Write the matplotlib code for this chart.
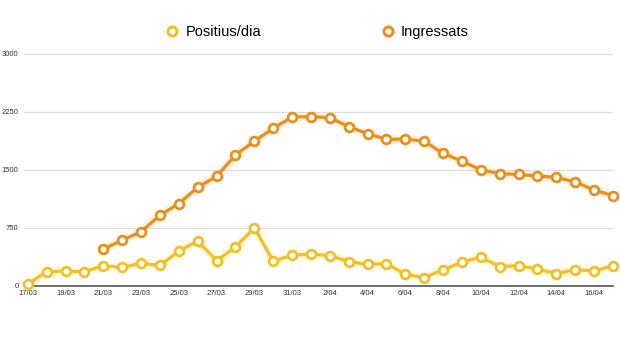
import matplotlib
matplotlib.use("Agg")
import matplotlib.pyplot as plt
from matplotlib.lines import Line2D

dates = ["17/03", "18/03", "19/03", "20/03", "21/03", "22/03", "23/03", "24/03",
         "25/03", "26/03", "27/03", "28/03", "29/03", "30/03", "31/03", "1/04",
         "2/04", "3/04", "4/04", "5/04", "6/04", "7/04", "8/04", "9/04",
         "10/04", "11/04", "12/04", "13/04", "14/04", "15/04", "16/04", "17/04"]

positius = [25, 185, 194, 185, 263, 241, 293, 267, 448, 582, 328, 504, 754, 323,
            397, 414, 392, 315, 280, 289, 151, 108, 211, 306, 375, 250, 263, 220,
            160, 211, 194, 263]

# Ingressats starts on 21/03
ingressats_start = 4
ingressats = [478, 590, 703, 914, 1065, 1276, 1418, 1694, 1871, 2039, 2185, 2190,
              2177, 2060, 1970, 1896, 1901, 1871, 1716, 1612, 1504, 1452, 1444,
              1422, 1405, 1345, 1241, 1168]

yticks = [0, 750, 1500, 2250, 3000]

c_pos = "#F3C023"
c_ing = "#E8901C"

plt.rcParams['font.family'] = ['Liberation Sans', 'DejaVu Sans']
fig = plt.figure(figsize=(6.2, 3.41), dpi=100)
ax = fig.add_axes([24/620, 1-286/341, (613-24)/620, (286-54)/341])

x_pos = list(range(len(positius)))
x_ing = list(range(ingressats_start, ingressats_start + len(ingressats)))

for xs, ys, c in [(x_pos, positius, c_pos), (x_ing, ingressats, c_ing)]:
    ax.plot(xs, ys, color=c, lw=6, alpha=0.12, solid_capstyle='round', zorder=2)
    ax.plot(xs, ys, color=c, lw=2.3, marker='o', markersize=6.3,
            markerfacecolor='white', markeredgecolor=c, markeredgewidth=2,
            zorder=3, clip_on=False)

ax.set_xlim(-0.2, len(dates) - 1)
ax.set_ylim(0, 3000)
ax.set_yticks(yticks)
ax.set_yticklabels([str(v) for v in yticks])
ax.set_xticks(list(range(0, len(dates), 2)))
ax.set_xticklabels(dates[::2])
ax.tick_params(axis='both', length=0, labelsize=5.5, labelcolor='#333333')
ax.tick_params(axis='y', pad=4)
ax.tick_params(axis='x', pad=3)
for lbl in ax.get_yticklabels():
    lbl.set_horizontalalignment('right')

ax.grid(axis='y', color='#dddddd', lw=0.9)
ax.set_axisbelow(True)
for s in ['top', 'right', 'left']:
    ax.spines[s].set_visible(False)
ax.spines['bottom'].set_color('#555555')
ax.spines['bottom'].set_linewidth(1.2)
ax.spines['bottom'].set_zorder(1)

handles = [Line2D([], [], color=c_pos, lw=0, marker='o', markersize=6.5,
                  markerfacecolor='white', markeredgecolor=c_pos, markeredgewidth=2.2),
           Line2D([], [], color=c_ing, lw=0, marker='o', markersize=6.5,
                  markerfacecolor='white', markeredgecolor=c_ing, markeredgewidth=2.2)]
fig.legend(handles, ["Positius/dia", "Ingressats"], loc='center',
           bbox_to_anchor=(317/620, 1-32/341), ncol=2, frameon=False,
           fontsize=10.5, handlelength=1.0, handletextpad=0.4, columnspacing=8.2)

fig.savefig("out.png", dpi=100)
